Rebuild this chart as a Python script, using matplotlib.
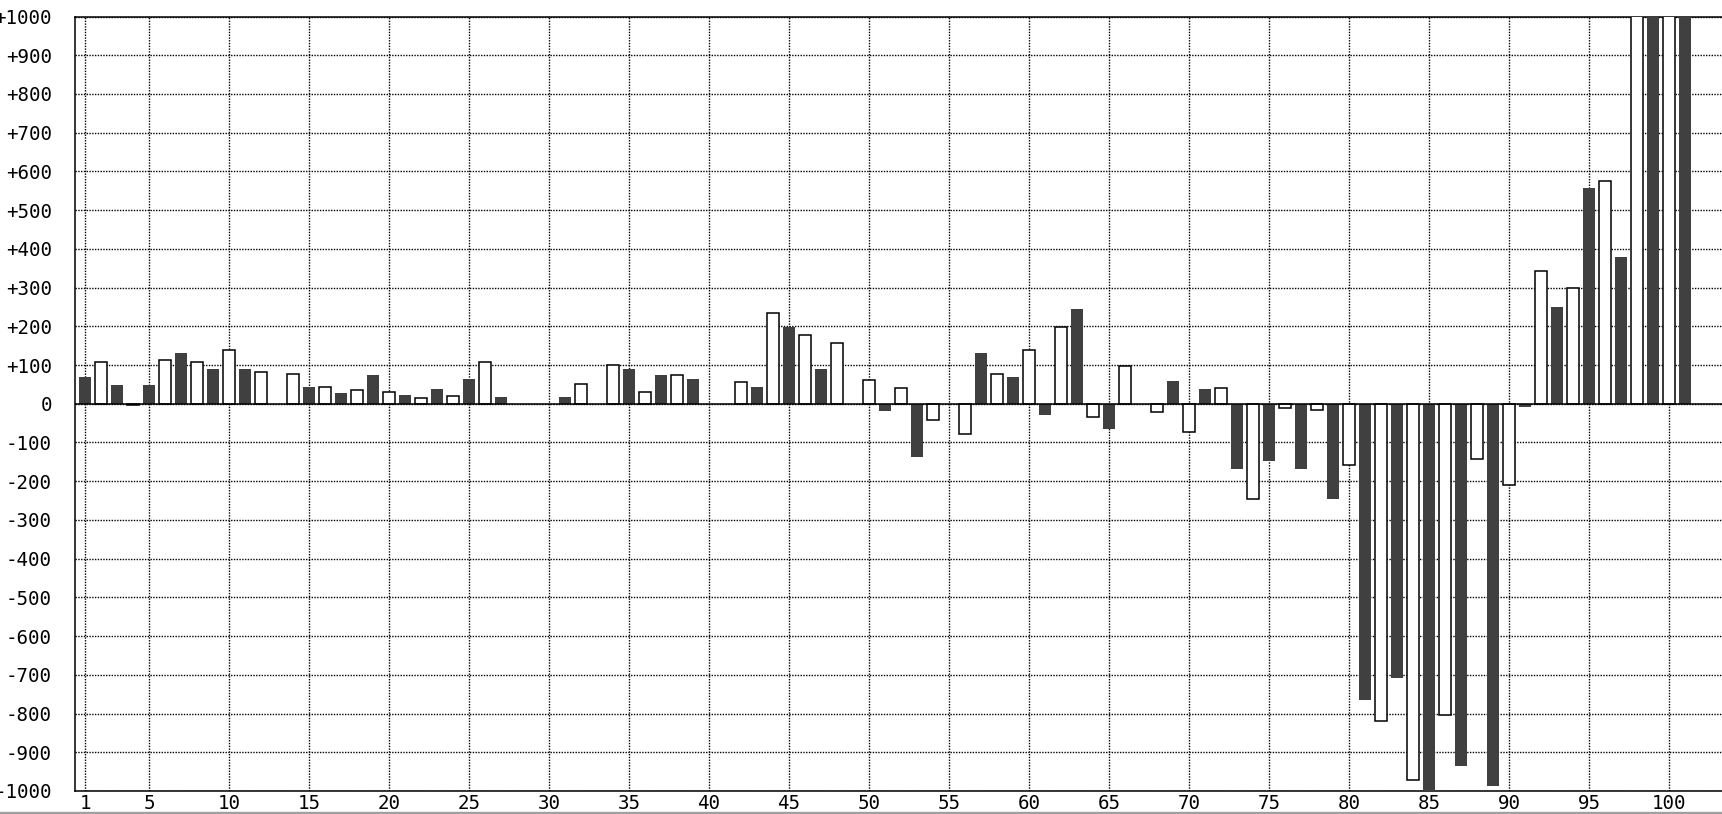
import numpy as np
import matplotlib
matplotlib.use("Agg")
import matplotlib.pyplot as plt
from matplotlib.patches import Rectangle

# odd positions -> dark bars, even positions -> white bars (None = no bar)
dark_x = list(range(1, 102, 2))
dark_vals = [69, 49, 49, 132, 90, 90, None, 43, 28, 75,
             23, 38, 64, 17, None, 17, None, 90, 75, 64,
             None, 43, 199, 90, None, -19, -138, None, 131, 69,
             -29, 245, -66, None, 59, 38, -169, -149, -169, -247,
             -765, -708, -1050, -936, -988, -9, 250, 556, 380, 1200,
             1200]

white_x = list(range(2, 101, 2))
white_vals = [109, -4, 114, 109, 140, 83, 78, 42, 36, 31,
              16, 21, 109, None, None, 52, 99, 31, 73, None,
              57, 234, 177, 156, 62, 41, -41, -79, 78, 140,
              197, -33, 98, -22, -74, 41, -245, -12, -17, -157,
              -820, -971, -803, -142, -209, 342, 300, 575, 1200, 1200]

x_ticks = [1] + list(range(5, 101, 5))
y_ticks = list(range(-1000, 1001, 100))
y_labels = ["0" if v == 0 else f"{v:+d}" for v in y_ticks]

fig = plt.figure(figsize=(17.22, 8.14), dpi=100)
ax = fig.add_axes([75 / 1722, 23 / 814, 1 - 75 / 1722, 774.5 / 814])

dx = [x for x, v in zip(dark_x, dark_vals) if v is not None]
dv = [v for v in dark_vals if v is not None]
wx = [x for x, v in zip(white_x, white_vals) if v is not None]
wv = [v for v in white_vals if v is not None]

ax.bar(dx, dv, width=0.75, color="#404040", edgecolor="none", zorder=3)
ax.bar(wx, wv, width=0.7, color="white", edgecolor="black", linewidth=1.1, zorder=3)
ax.axhline(0, color="black", linewidth=1.1, zorder=4)

ax.set_xlim(0.375, 1 + (1722 - 85) / 16)
ax.set_ylim(-1000, 1000)
ax.set_xticks(x_ticks)
ax.set_yticks(y_ticks)
ax.set_yticklabels(y_labels)
ax.grid(True, color="black", linestyle=(0, (1, 1)), linewidth=1.0, zorder=1)
ax.set_axisbelow(True)

mono = "DejaVu Sans Mono"
ax.tick_params(axis="both", length=0, labelsize=13.8)
ax.tick_params(axis="y", pad=16.5)
ax.tick_params(axis="x", pad=2)
for lbl in ax.get_xticklabels() + ax.get_yticklabels():
    lbl.set_fontfamily(mono)

for side in ["left", "top", "bottom"]:
    ax.spines[side].set_linewidth(1.1)
    ax.spines[side].set_color("black")
ax.spines["right"].set_visible(False)

# gray border strip at the bottom edge
fig.patches.append(Rectangle((0, 0), 1, 2.5 / 814, transform=fig.transFigure,
                             color="#a0a0a0", zorder=10))

fig.savefig("out.png", dpi=100)
